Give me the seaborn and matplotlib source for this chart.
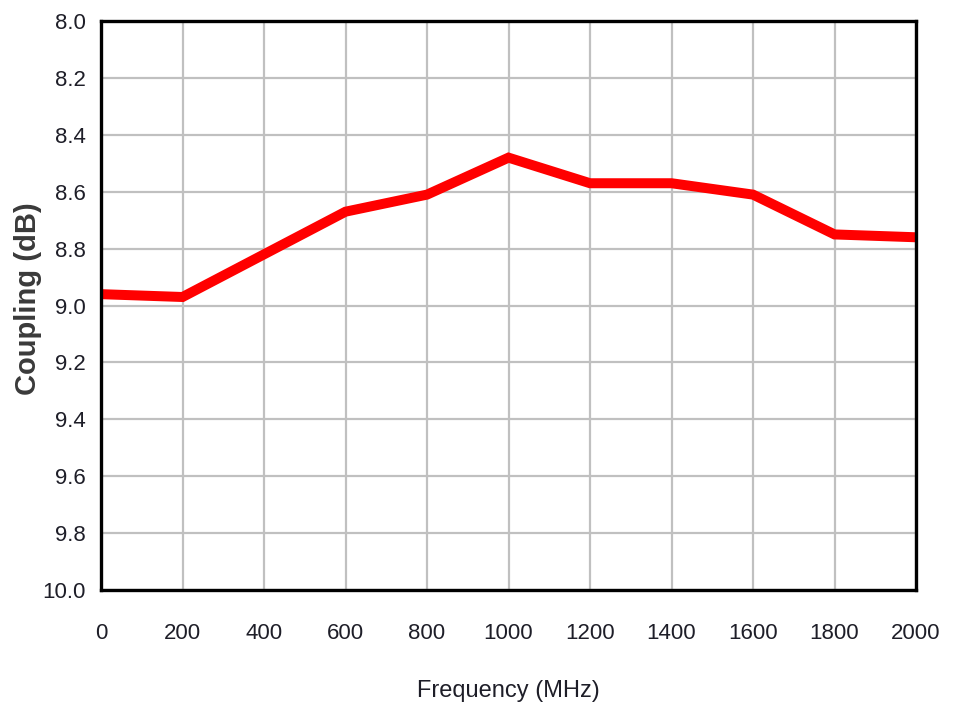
import matplotlib
matplotlib.use("Agg")
import matplotlib.pyplot as plt
import seaborn as sns
import pandas as pd

freq_mhz = [0, 200, 400, 600, 800, 1000, 1200, 1400, 1600, 1800, 2000]
coupling_db = [8.96, 8.97, 8.82, 8.67, 8.61, 8.48, 8.57, 8.57, 8.61, 8.75, 8.76]
x_ticks = [0, 200, 400, 600, 800, 1000, 1200, 1400, 1600, 1800, 2000]
y_ticks = [8.0, 8.2, 8.4, 8.6, 8.8, 9.0, 9.2, 9.4, 9.6, 9.8, 10.0]

df = pd.DataFrame({"Frequency": freq_mhz, "Coupling": coupling_db})

sns.set_style("white")
plt.rcParams["font.family"] = ["Liberation Sans", "DejaVu Sans"]

fig = plt.figure(figsize=(9.55, 7.04), dpi=100)
ax = fig.add_axes([0.1058, 0.162, 0.8534, 0.808])

sns.lineplot(data=df, x="Frequency", y="Coupling", color="#ff0000", linewidth=7.2,
             solid_joinstyle="miter", ax=ax)

ax.set_xlim(0, 2000)
ax.set_ylim(10.0, 8.0)
ax.set_xticks(x_ticks)
ax.set_yticks(y_ticks)
ax.set_yticklabels([f"{v:.1f}" for v in y_ticks])
ax.grid(True, color="#c0c0c0", linewidth=1.6)
ax.set_axisbelow(True)

for s in ax.spines.values():
    s.set_visible(True)
    s.set_color("black")
    s.set_linewidth(2.4)

ax.tick_params(axis="both", direction="out", length=6, width=2.2, color="black",
               labelsize=16, labelcolor="#1e1e28")
ax.tick_params(axis="y", pad=5)
ax.tick_params(axis="x", pad=18)

ax.set_xlabel("Frequency (MHz)", fontsize=17, color="#1e1e28", labelpad=26)
ax.set_ylabel("Coupling (dB)", fontsize=21, fontweight="bold", color="#3a3a3a")
ax.yaxis.set_label_coords(-0.072, 0.513)

fig.savefig("out.png", dpi=100)
